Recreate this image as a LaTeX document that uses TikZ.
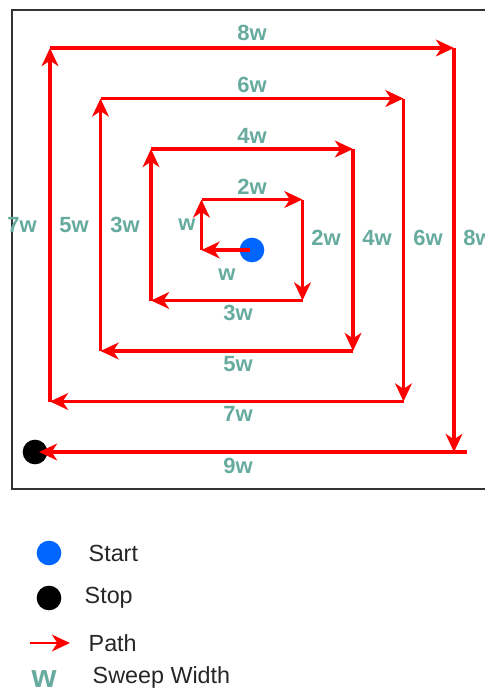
\documentclass[tikz,border=0pt]{standalone}
\usepackage{fontspec}
\setmainfont{Liberation Sans}
\usepackage{tikz}
\usetikzlibrary{arrows.meta,positioning,calc}
\definecolor{PathRed}{HTML}{FF0000}
\definecolor{WidthTeal}{HTML}{67AB9F}
\definecolor{StartBlue}{HTML}{0066FF}
\definecolor{FrameGray}{HTML}{333333}

\begin{document}
\begin{tikzpicture}[x=0.75pt,y=-0.75pt,
    seg/.style={PathRed,line width=2.5pt,-{Stealth[length=13.5pt,width=12.5pt,inset=4pt]}},
    wlab/.style={font=\fontsize{16.5}{18}\selectfont\bfseries,text=WidthTeal,inner sep=1pt},
    dot/.style={circle,inner sep=0pt,minimum size=18.5pt},
    legtext/.style={anchor=west,font=\fontsize{17.5}{20}\selectfont,text=black!85}]
  \useasboundingbox (0,0) rectangle (485,693);
  \draw[FrameGray,line width=0.8pt] (12,10) rectangle (492,489);

  % dots
  \node[dot,fill=StartBlue] (start) at (252,250) {};
  \node[dot,fill=black] (stop) at (35,452) {};

  % corners of the spiral
  \coordinate (c0) at (250,250);
  \coordinate (c1) at (201.5,250);
  \coordinate (c2) at (201.5,199.5);
  \coordinate (c3) at (302.5,199.5);
  \coordinate (c4) at (302.5,300.5);
  \coordinate (c5) at (151,300.5);
  \coordinate (c6) at (151,149);
  \coordinate (c7) at (353,149);
  \coordinate (c8) at (353,351);
  \coordinate (c9) at (100.5,351);
  \coordinate (c10) at (100.5,98.5);
  \coordinate (c11) at (403.5,98.5);
  \coordinate (c12) at (403.5,401.5);
  \coordinate (c13) at (50,401.5);
  \coordinate (c14) at (50,48);
  \coordinate (c15) at (454,48);
  \coordinate (c16) at (454,452);
  \coordinate (e) at (467,452);
  \foreach \i [evaluate=\i as \j using int(\i+1)] in {0,...,15}{\draw[seg] (c\i) -- (c\j);}
  \draw[seg,shorten >=3pt] (e) -- (stop.center);

  % sweep width labels
  \node[wlab] (wa) at (227,275) {w};
  \node[wlab] (wb) at (187,225) {w};
  \node[wlab] (w2a) at (252,187) {2w};
  \node[wlab] (w2b) at (326,238) {2w};
  \node[wlab] (w3a) at (238,313) {3w};
  \node[wlab] (w3b) at (125,225) {3w};
  \node[wlab] (w4a) at (252,136) {4w};
  \node[wlab] (w4b) at (377,238) {4w};
  \node[wlab] (w5a) at (238,364) {5w};
  \node[wlab] (w5b) at (74,225) {5w};
  \node[wlab] (w6a) at (252,85) {6w};
  \node[wlab] (w6b) at (428,238) {6w};
  \node[wlab] (w7a) at (238,414) {7w};
  \node[wlab] (w7b) at (22,225) {7w};
  \node[wlab] (w8a) at (252,33) {8w};
  \node[wlab] (w8b) at (478,238) {8w};
  \node[wlab] (w9a) at (238,466) {9w};

  % legend
  \node[dot,fill=StartBlue] (kstart) at (49,553) {};
  \node[legtext] (tstart) at (84,553) {Start};
  \node[dot,fill=black] (kstop) at (49,598) {};
  \node[legtext] (tstop) at (80,598) {Stop};
  \coordinate (ka) at (30,643);
  \coordinate (kb) at (70,643);
  \draw[seg,line width=2pt] (ka) -- (kb);
  \node[legtext] (tpath) at (84,643) {Path};
  \node[wlab,font=\fontsize{24}{26}\selectfont\bfseries] (kw) at (44,679) {w};
  \node[legtext] (tsweep) at (88,677) {Sweep Width};
\end{tikzpicture}
\end{document}
